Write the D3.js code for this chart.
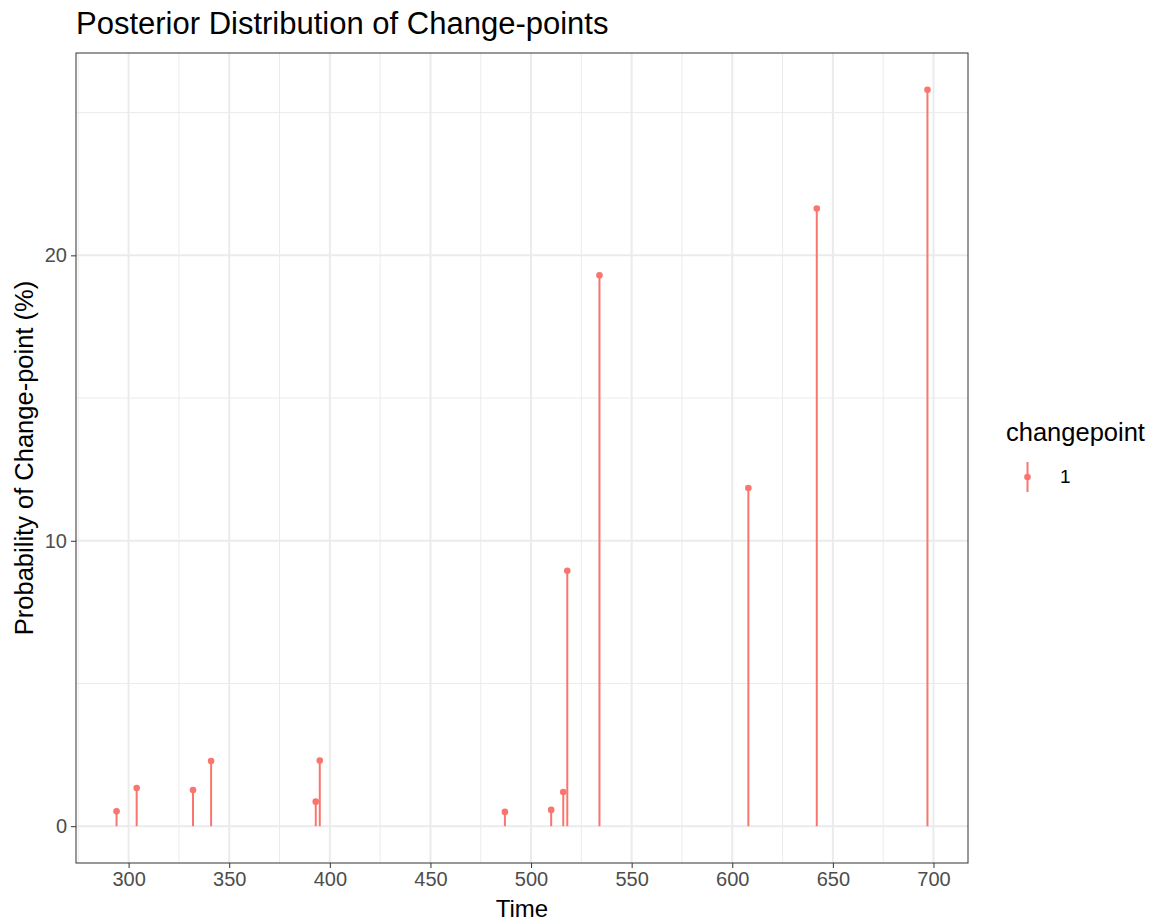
<!DOCTYPE html>
<html>
<head>
<meta charset="utf-8">
<script src="https://cdn.jsdelivr.net/npm/d3@7"></script>
<style>
  body { margin: 0; background: #fff; }
  svg text { font-family: "Liberation Sans", Arial, sans-serif; }
</style>
</head>
<body>
<div id="chart-wrapper"></div>
<script>
// values
var times = [294, 304, 332, 341, 393, 395, 487, 510, 516, 518, 534, 608, 642, 697];
var probs = [0.52, 1.34, 1.27, 2.28, 0.86, 2.3, 0.5, 0.57, 1.2, 8.95, 19.3, 11.85, 21.64, 25.8];
var x_ticks = [300, 350, 400, 450, 500, 550, 600, 650, 700];
var x_minor = [275, 325, 375, 425, 475, 525, 575, 625, 675];
var y_ticks = [0, 10, 20];
var y_minor = [5, 15, 25];

var total_width = 1150, total_height = 922;
var margin = {top: 53, right: 182, bottom: 59, left: 76};
var draw_width = total_width - margin.left - margin.right;
var draw_height = total_height - margin.top - margin.bottom;
var col = '#F8766D';

var svg = d3.select('#chart-wrapper').append('svg')
    .attr('width', total_width)
    .attr('height', total_height);

var data = times.map(function(t, i) { return {time: t, prob: probs[i]}; });

// ggplot style 5% expansion
var xr = d3.extent(times), xpad = (xr[1] - xr[0]) * 0.05;
var ymax = d3.max(probs), ypad = ymax * 0.05;

var scale_x = d3.scaleLinear()
    .domain([xr[0] - xpad, xr[1] + xpad])
    .range([0, draw_width]);
var scale_y = d3.scaleLinear()
    .domain([-ypad, ymax + ypad])
    .range([draw_height, 0]);

var draw_area = svg.append('g')
    .attr('transform', 'translate(' + margin.left + ',' + margin.top + ')');

// grid lines
draw_area.selectAll('.minor-x').data(x_minor.filter(function(d) {
        return d >= scale_x.domain()[0] && d <= scale_x.domain()[1]; }))
    .enter().append('line')
    .attr('x1', scale_x).attr('x2', scale_x)
    .attr('y1', 0).attr('y2', draw_height)
    .attr('stroke', '#EBEBEB').attr('stroke-width', 1);
draw_area.selectAll('.minor-y').data(y_minor)
    .enter().append('line')
    .attr('y1', scale_y).attr('y2', scale_y)
    .attr('x1', 0).attr('x2', draw_width)
    .attr('stroke', '#EBEBEB').attr('stroke-width', 1);
draw_area.selectAll('.major-x').data(x_ticks)
    .enter().append('line')
    .attr('x1', scale_x).attr('x2', scale_x)
    .attr('y1', 0).attr('y2', draw_height)
    .attr('stroke', '#EBEBEB').attr('stroke-width', 2);
draw_area.selectAll('.major-y').data(y_ticks)
    .enter().append('line')
    .attr('y1', scale_y).attr('y2', scale_y)
    .attr('x1', 0).attr('x2', draw_width)
    .attr('stroke', '#EBEBEB').attr('stroke-width', 2);

// stems
draw_area.selectAll('.stem').data(data)
    .enter().append('line')
    .attr('x1', function(d) { return scale_x(d.time); })
    .attr('x2', function(d) { return scale_x(d.time); })
    .attr('y1', scale_y(0))
    .attr('y2', function(d) { return scale_y(d.prob); })
    .attr('stroke', col).attr('stroke-width', 2);

draw_area.selectAll('.dot').data(data)
    .enter().append('circle')
    .attr('cx', function(d) { return scale_x(d.time); })
    .attr('cy', function(d) { return scale_y(d.prob); })
    .attr('r', 3.3)
    .attr('fill', col);

// panel border
draw_area.append('rect')
    .attr('width', draw_width).attr('height', draw_height)
    .attr('fill', 'none').attr('stroke', '#333333').attr('stroke-width', 1);

// axes
var axis_x = d3.axisBottom(scale_x).tickValues(x_ticks).tickSizeOuter(0).tickSizeInner(5).tickPadding(4);
var gx = draw_area.append('g')
    .attr('transform', 'translate(0,' + draw_height + ')')
    .call(axis_x);
var axis_y = d3.axisLeft(scale_y).tickValues(y_ticks).tickSizeOuter(0).tickSizeInner(5).tickPadding(4);
var gy = draw_area.append('g').call(axis_y);
[gx, gy].forEach(function(g) {
    g.select('.domain').remove();
    g.selectAll('line').attr('stroke', '#333333').attr('stroke-width', 1);
    g.selectAll('text').attr('fill', '#4D4D4D').style('font-size', '20px')
        .style('font-family', '"Liberation Sans", Arial, sans-serif');
});
gx.selectAll('text').attr('dy', '0.71em').attr('y', 9);

// titles
svg.append('text')
    .attr('x', margin.left).attr('y', 34)
    .style('font-size', '31px').attr('fill', '#000')
    .text('Posterior Distribution of Change-points');
svg.append('text')
    .attr('x', margin.left + draw_width / 2).attr('y', 917)
    .attr('text-anchor', 'middle')
    .style('font-size', '24px').attr('fill', '#000')
    .text('Time');
svg.append('text')
    .attr('transform', 'translate(33,' + (margin.top + draw_height / 2) + ') rotate(-90)')
    .attr('text-anchor', 'middle')
    .style('font-size', '25.5px').attr('fill', '#000')
    .text('Probability of Change-point (%)');

// legend
var legend = svg.append('g').attr('transform', 'translate(1006,0)');
legend.append('text')
    .attr('x', 0).attr('y', 441)
    .style('font-size', '25.5px').attr('fill', '#000')
    .text('changepoint');
legend.append('line')
    .attr('x1', 21.5).attr('x2', 21.5)
    .attr('y1', 462).attr('y2', 492)
    .attr('stroke', col).attr('stroke-width', 2);
legend.append('circle')
    .attr('cx', 21.5).attr('cy', 477).attr('r', 3.3).attr('fill', col);
legend.append('text')
    .attr('x', 54).attr('y', 483)
    .style('font-size', '19px').attr('fill', '#000')
    .text('1');
</script>
</body>
</html>
